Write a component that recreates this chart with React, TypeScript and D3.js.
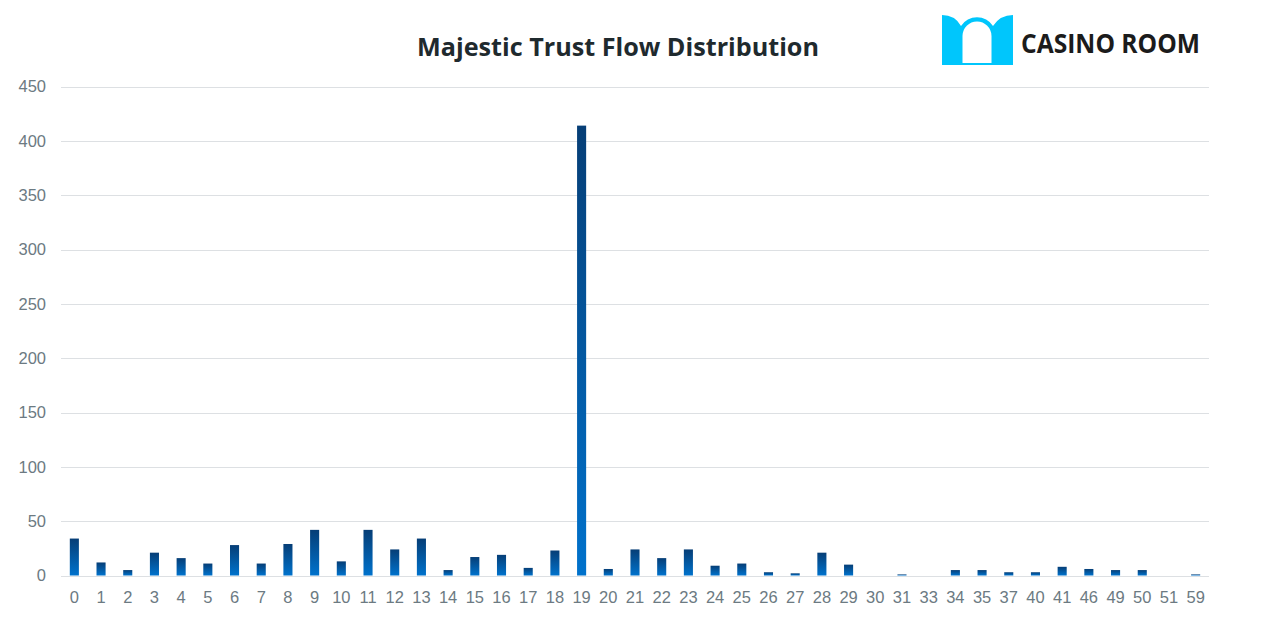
import React from "react";
import * as d3 from "d3";

const categories = ["0","1","2","3","4","5","6","7","8","9","10","11","12","13","14","15","16","17","18","19","20","21","22","23","24","25","26","27","28","29","30","31","33","34","35","37","40","41","46","49","50","51","59"];
const values = [34,12,5,21,16,11,28,11,29,42,13,42,24,34,5,17,19,7,23,414,6,24,16,24,9,11,3,2,21,10,0,1,0,5,5,3,3,8,6,5,5,0,1];
const yTicks = [0,50,100,150,200,250,300,350,400,450];

const W = 1268, H = 623;
const plot = { left: 61, right: 1209, top: 86.5, bottom: 575.5 };

export default function App() {
  const x = d3.scaleBand<string>().domain(categories).range([plot.left, plot.right]).paddingInner(0.66).paddingOuter(0.33);
  const y = d3.scaleLinear().domain([0, 450]).range([plot.bottom, plot.top]);
  const labelColor = "#6c7a82";
  return (
    <div style={{ position: "absolute", left: 0, top: 0 }}>
      <svg width={W} height={H} style={{ display: "block", background: "#fff" }}>
        <defs>
          <linearGradient id="barGrad" x1="0" y1="0" x2="0" y2="1">
            <stop offset="0" stopColor="#063e76" />
            <stop offset="1" stopColor="#0072cc" />
          </linearGradient>
        </defs>
        <text x={417} y={56} fontFamily="'Open Sans', sans-serif" fontWeight={700} fontSize={25.3} fill="#1f2a2e" textLength={402} lengthAdjust="spacingAndGlyphs">Majestic Trust Flow Distribution</text>
        {/* logo */}
        <g>
          <path d="M942,15 Q955,15 961,26 A19,19 0 0 1 993,26 Q1000,15 1013,15 L1013,65 L942,65 Z" fill="#00c6fc" />
          <path d="M962.5,63 L962.5,36 A14.5,14.5 0 0 1 991.5,36 L991.5,63 Z" fill="#fff" />
          <text x={1021} y={53} fontFamily="'Open Sans', sans-serif" fontWeight={700} fontSize={26} fill="#1b1b1b" textLength={179} lengthAdjust="spacingAndGlyphs">CASINO ROOM</text>
        </g>
        {yTicks.map(t => (
          <g key={t}>
            <line x1={plot.left} x2={plot.right} y1={Math.round(y(t)) + 0.5} y2={Math.round(y(t)) + 0.5} stroke="#dde0e3" strokeWidth={1} />
            <text x={46} y={y(t)} dy="0.35em" textAnchor="end" fontFamily="'Liberation Sans', Arial, sans-serif" fontSize={16.5} fill={labelColor}>{t}</text>
          </g>
        ))}
        {categories.map((c, i) => {
          const v = values[i];
          if (v <= 0) return null;
          return <rect key={c} x={x(c)} y={y(v)} width={x.bandwidth()} height={y(0) - y(v)} fill="url(#barGrad)" />;
        })}
        {categories.map(c => (
          <text key={c} x={(x(c) as number) + x.bandwidth() / 2} y={603} textAnchor="middle" fontFamily="'Liberation Sans', Arial, sans-serif" fontSize={16.5} fill={labelColor}>{c}</text>
        ))}
      </svg>
    </div>
  );
}
